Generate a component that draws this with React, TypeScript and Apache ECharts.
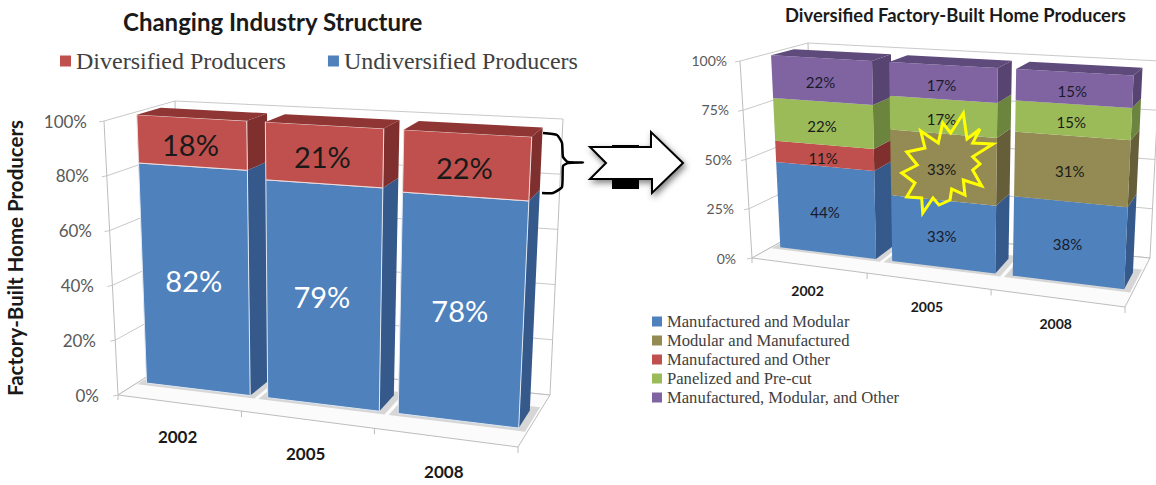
import React, { useEffect, useRef } from "react";
import * as echarts from "echarts";

// Chart values
const years = ["2002", "2005", "2008"];
const undiversified = [82, 79, 78];
const diversified = [18, 21, 22];
const manufacturedModular = [44, 33, 38];
const modularManufactured = [0, 33, 31];
const manufacturedOther = [11, 0, 0];
const panelizedPrecut = [22, 17, 15];
const manufacturedModularOther = [22, 17, 15];
const leftTicks = [0, 20, 40, 60, 80, 100];
const rightTicks = [0, 25, 50, 75, 100];

const SANS = "Lato, 'Noto Sans', sans-serif";
const SERIF = "'Liberation Serif', serif";
type P = [number, number];
type Box = { fbl: P; fbr: P; ftl: P; ftr: P; bbl: P; bbr: P; btl: P; btr: P };

// Perspective box of each plot: front/back, bottom/top, left/right corners.
const leftBox: Box = {
  fbl: [118, 395], fbr: [518, 447], ftl: [104, 121], ftr: [532, 147],
  bbl: [178, 357], bbr: [550, 395], btl: [175, 101], btr: [563, 119],
};
const rightBox: Box = {
  fbl: [752, 258], fbr: [1125, 307], ftl: [740, 61], ftr: [1135, 84],
  bbl: [813, 224], bbr: [1150, 258], btl: [808, 43], btr: [1160, 61],
};
const FORESHORTEN = 1.12;
const BAR_DEPTH: [number, number] = [0.34, 0.68];
const BAR_INSET = 0.07;

const lerp = (a: P, b: P, k: number): P => [a[0] + (b[0] - a[0]) * k, a[1] + (b[1] - a[1]) * k];
const warp = (t: number) => t / (t + (1 - t) * FORESHORTEN);

// Maps plot fractions (t across, s up, d into the page) onto the drawn box.
function project(b: Box, t: number, s: number, d: number): P {
  const w = warp(t);
  const front = lerp(lerp(b.fbl, b.fbr, w), lerp(b.ftl, b.ftr, w), s);
  const back = lerp(lerp(b.bbl, b.bbr, w), lerp(b.btl, b.btr, w), s);
  return lerp(front, back, d);
}

const fractions = (params: any, api: any, cat: number, value: number) => {
  const cs = params.coordSys;
  const p = api.coord([cat, value]);
  return { t: (p[0] - cs.x) / cs.width, s: (cs.y + cs.height - p[1]) / cs.height, half: api.size([1, 0])[0] / 2 / cs.width };
};

const GRID = "#c9c9c9";

function frameSeries(box: Box, xAxisIndex: number, ticks: number[]) {
  return {
    type: "custom", xAxisIndex, yAxisIndex: xAxisIndex, z: 1, silent: true,
    data: ticks.map((v) => [0, v]),
    encode: { x: 0, y: 1 },
    renderItem(params: any, api: any) {
      const v = api.value(1);
      const { s } = fractions(params, api, 0, v);
      const a = project(box, 0, s, 0);
      const b = project(box, 0, s, 1);
      const c = project(box, 1, s, 1);
      const line = { stroke: GRID, lineWidth: 1, fill: "none" };
      return {
        type: "group",
        children: [
          { type: "polyline", shape: { points: [[a[0] - 5, a[1] + 1], a, b, c] }, style: line },
        ],
      };
    },
  };
}

function floorSeries(box: Box, xAxisIndex: number) {
  return {
    type: "custom", xAxisIndex, yAxisIndex: xAxisIndex, z: 1, silent: true,
    data: [[0, 0]],
    encode: { x: 0, y: 1 },
    renderItem() {
      const line = { stroke: "#bdbdbd", lineWidth: 1, fill: "none" };
      return {
        type: "group",
        children: [
          { type: "polygon", shape: { points: [box.fbl, box.fbr, box.bbr, box.bbl] }, style: { fill: "#fbfbfb", stroke: "#bdbdbd", lineWidth: 1 } },
          { type: "polyline", shape: { points: [box.ftl, box.fbl, [box.fbl[0], box.fbl[1] + 5]] }, style: line },
          { type: "polyline", shape: { points: [box.fbr, [box.fbr[0], box.fbr[1] + 6]] }, style: line },
          { type: "polyline", shape: { points: [box.btl, box.bbl] }, style: line },
          { type: "polyline", shape: { points: [box.btr, box.bbr] }, style: line },
        ],
      };
    },
  };
}

// Category names and the ticks between categories along the front floor edge.
function categorySeries(box: Box, xAxisIndex: number, fontSize: number, drop: number) {
  return {
    type: "custom", xAxisIndex, yAxisIndex: xAxisIndex, z: 1, silent: true,
    data: years.map((_, i) => [i, 0]),
    encode: { x: 0, y: 1 },
    renderItem(params: any, api: any) {
      const i = api.value(0);
      const { t, half } = fractions(params, api, i, 0);
      const at = project(box, t, 0, 0);
      const children: any[] = [
        {
          type: "text", x: at[0] - 1, y: at[1] + drop,
          style: { text: years[i], fontFamily: SANS, fontWeight: "bold", fontSize, fill: "#1a1a1a", align: "center", verticalAlign: "middle" },
        },
      ];
      if (i > 0) {
        const tick = project(box, t - half, 0, 0);
        children.push({ type: "polyline", shape: { points: [tick, [tick[0], tick[1] + 6]] }, style: { stroke: "#bdbdbd", lineWidth: 1, fill: "none" } });
      }
      return { type: "group", children };
    },
  };
}

type Look = { front: string; side: string; top: string; text: string };

function stackSeries(
  box: Box, xAxisIndex: number, name: string, values: number[], lower: number[][], upper: number[][],
  look: Look, fontSize: number, edge: string, order: number,
) {
  const total = (i: number) => [...lower, values, ...upper].reduce((acc, arr) => acc + arr[i], 0);
  const below = (i: number) => lower.reduce((acc, arr) => acc + arr[i], 0);
  return {
    type: "custom", name, xAxisIndex, yAxisIndex: xAxisIndex, silent: true,
    itemStyle: { color: look.front },
    data: years.map((_, i) => [
      i,
      (below(i) / total(i)) * 100,
      ((below(i) + values[i]) / total(i)) * 100,
      values[i],
    ]),
    encode: { x: 0, y: [1, 2] },
    renderItem(params: any, api: any) {
      const i = api.value(0);
      const value = api.value(3);
      if (!value) return { type: "group", children: [] };
      const lo = fractions(params, api, i, api.value(1));
      const hi = fractions(params, api, i, api.value(2));
      const span = lo.half * (1 - 2 * BAR_INSET);
      const l = lo.t - span;
      const r = lo.t + span;
      const [d0, d1] = BAR_DEPTH;
      const z2 = i * 20 + order;
      const face = (points: P[], fill: string, stroke: string) => ({
        type: "polygon", z2, shape: { points }, style: { fill, stroke, lineWidth: stroke === "none" ? 0 : 1 },
      });
      const children: any[] = [
        face([project(box, r, lo.s, d0), project(box, r, lo.s, d1), project(box, r, hi.s, d1), project(box, r, hi.s, d0)], look.side, "none"),
        face([project(box, l, lo.s, d0), project(box, r, lo.s, d0), project(box, r, hi.s, d0), project(box, l, hi.s, d0)], look.front, edge),
      ];
      if (hi.s > 0.999) {
        children.push(face([project(box, l, hi.s, d0), project(box, r, hi.s, d0), project(box, r, hi.s, d1), project(box, l, hi.s, d1)], look.top, "none"));
      }
      const mid = project(box, lo.t - span * 0.02, (lo.s + hi.s) / 2, d0);
      children.push({
        type: "text", z2: z2 + 10, x: mid[0], y: mid[1] + 2.5,
        style: { text: `${value}%`, fontFamily: SANS, fontSize, fill: look.text, align: "center", verticalAlign: "middle" },
      });
      return { type: "group", children };
    },
  };
}

// Shadow patch beneath each bar on the floor.
function footSeries(box: Box, xAxisIndex: number) {
  return {
    type: "custom", xAxisIndex, yAxisIndex: xAxisIndex, z: 1, silent: true,
    data: years.map((_, i) => [i, 0]),
    encode: { x: 0, y: 1 },
    renderItem(params: any, api: any) {
      const i = api.value(0);
      const { t, half } = fractions(params, api, i, 0);
      const span = half * (1 - 2 * BAR_INSET);
      const l = t - span - 0.018;
      const r = t + span + 0.018;
      return {
        type: "polygon", z2: 5,
        shape: { points: [project(box, l, 0, 0.29), project(box, r, 0, 0.29), project(box, r, 0, 0.76), project(box, l, 0, 0.76)] },
        style: { fill: "#d6d6d6" },
      };
    },
  };
}

const blue: Look = { front: "#4F81BD", side: "#34598A", top: "#3C659A", text: "#ffffff" };
const red: Look = { front: "#C0504D", side: "#7F302E", top: "#8F3634", text: "#1a1a1a" };
const dark = (l: Look): Look => ({ ...l, text: "#1a1a2a" });
const olive: Look = { front: "#948A54", side: "#655E39", top: "#6E6540", text: "#1a1a1a" };
const green: Look = { front: "#9BBB59", side: "#6B843E", top: "#75904A", text: "#1a1a1a" };
const purple: Look = { front: "#8064A2", side: "#574470", top: "#5F4A7C", text: "#1a1a2a" };

const labelRich = (pads: Record<number, number>, fontSize: number) =>
  Object.fromEntries(
    Object.entries(pads).map(([v, pad]) => [
      `t${v}`,
      { padding: [0, pad, 0, 0], fontFamily: SANS, fontSize, color: "#595959", align: "right" },
    ]),
  );

const arrowOutline: P[] = [[590, 147], [651, 147], [651, 132], [683, 163], [652, 193], [652, 179], [590, 179], [606, 163]];
const bracePath: P[] = [
  [543, 133], [557, 135], [562, 143], [563, 157], [568, 162], [583, 162.5],
  [568, 163], [563, 166], [562, 187], [553, 193], [542, 193],
];
const burst: P[] = [
  [963.3, 113.3], [967, 139], [980, 129], [972.7, 143], [993, 144], [972.7, 156.7], [980, 164], [972.7, 170], [981.7, 186],
  [963.3, 180], [965, 195], [951.7, 189], [950, 200], [939, 205], [933, 198], [922.7, 213], [921.7, 198], [906.7, 197],
  [915, 183], [901.7, 173], [917.3, 165], [906.7, 152], [925, 148], [920.7, 131], [938.3, 143], [942.7, 123], [950.7, 133],
];

export default function App() {
  const ref = useRef<HTMLDivElement>(null);
  useEffect(() => {
    const chart = echarts.init(ref.current!, undefined, { renderer: "svg" });
    const leftPads = { 0: 5, 20: 8, 40: 10, 60: 12, 80: 15, 100: 17 } as Record<number, number>;
    const rightPads = { 0: 4, 25: 6, 50: 8, 75: 11, 100: 13 } as Record<number, number>;
    const rightStack = [manufacturedModular, modularManufactured, manufacturedOther, panelizedPrecut, manufacturedModularOther];
    const rightNames = ["Manufactured and Modular", "Modular and Manufactured", "Manufactured and Other", "Panelized and Pre-cut", "Manufactured, Modular, and Other"];
    const rightLooks = [dark({ ...blue }), olive, red, green, purple];
    chart.setOption({
      animation: false,
      backgroundColor: "#ffffff",
      title: [
        { text: "Changing Industry Structure", left: 118, top: 4, textStyle: { fontFamily: SANS, fontWeight: "bold", fontSize: 24, color: "#1a1a1a" } },
        { text: "Diversified Factory-Built Home Producers", left: 780, top: 1, textStyle: { fontFamily: SANS, fontWeight: "bold", fontSize: 18.4, color: "#1a1a1a" } },
      ],
      legend: [
        {
          data: ["Diversified Producers", "Undiversified Producers"], left: 60, top: 49, itemWidth: 11, itemHeight: 11, itemGap: 42, icon: "rect", selectedMode: false,
          textStyle: { fontFamily: SERIF, fontSize: 24, color: "#404040" }, padding: 0,
        },
        {
          data: rightNames, orient: "vertical", left: 652, top: 313, itemWidth: 10, itemHeight: 10, itemGap: 2, icon: "rect", selectedMode: false,
          textStyle: { fontFamily: SERIF, fontSize: 16.6, color: "#404040" }, padding: 0,
        },
      ],
      grid: [
        { left: 104, top: 121, width: 428, height: 274 },
        { left: 740, top: 60, width: 395, height: 198 },
      ],
      xAxis: [
        { type: "category", gridIndex: 0, data: years, show: false },
        { type: "category", gridIndex: 1, data: years, show: false },
      ],
      yAxis: [
        {
          type: "value", gridIndex: 0, min: 0, max: 100, interval: 20,
          name: "Factory-Built Home Producers", nameLocation: "middle", nameRotate: 90, nameGap: 79,
          nameTextStyle: { fontFamily: SANS, fontWeight: "bold", fontSize: 20.5, color: "#1a1a1a" },
          axisLine: { show: false }, axisTick: { show: false }, splitLine: { show: false },
          axisLabel: { margin: 0, formatter: (v: number) => `{t${v}|${v}%}`, rich: labelRich(leftPads, 17) },
        },
        {
          type: "value", gridIndex: 1, min: 0, max: 100, interval: 25,
          axisLine: { show: false }, axisTick: { show: false }, splitLine: { show: false },
          axisLabel: { margin: 0, formatter: (v: number) => `{t${v}|${v}%}`, rich: labelRich(rightPads, 14) },
        },
      ],
      series: [
        frameSeries(leftBox, 0, leftTicks),
        frameSeries(rightBox, 1, rightTicks),
        floorSeries(leftBox, 0),
        floorSeries(rightBox, 1),
        footSeries(leftBox, 0),
        footSeries(rightBox, 1),
        categorySeries(leftBox, 0, 17, 34),
        categorySeries(rightBox, 1, 14, 25),
        stackSeries(leftBox, 0, "Undiversified Producers", undiversified, [], [diversified], blue, 29, "#dfe8f2", 0),
        stackSeries(leftBox, 0, "Diversified Producers", diversified, [undiversified], [], red, 29, "#f0dcdc", 1),
        ...rightStack.map((values, k) =>
          stackSeries(rightBox, 1, rightNames[k], values, rightStack.slice(0, k), rightStack.slice(k + 1), rightLooks[k], 15, "none", k),
        ),
      ],
      graphic: [
        { type: "rect", z: 50, shape: { x: 612, y: 145, width: 27, height: 3 }, style: { fill: "#000" } },
        { type: "rect", z: 50, shape: { x: 612, y: 178, width: 27, height: 11 }, style: { fill: "#000" } },
        {
          type: "polygon", z: 51, shape: { points: arrowOutline },
          style: { fill: "#fff", stroke: "#000", lineWidth: 2, shadowBlur: 6, shadowColor: "rgba(0,0,0,0.5)", shadowOffsetX: 2, shadowOffsetY: 3 },
        },
        { type: "polyline", z: 50, shape: { points: bracePath, smooth: 0.15 }, style: { stroke: "#000", lineWidth: 2.5, fill: "none" } },
        { type: "polygon", z: 60, shape: { points: burst }, style: { fill: "none", stroke: "#FFFF00", lineWidth: 3 } },
      ],
    });
    return () => chart.dispose();
  }, []);
  return <div ref={ref} style={{ position: "fixed", left: 0, top: 0, width: 1156, height: 485 }} />;
}
